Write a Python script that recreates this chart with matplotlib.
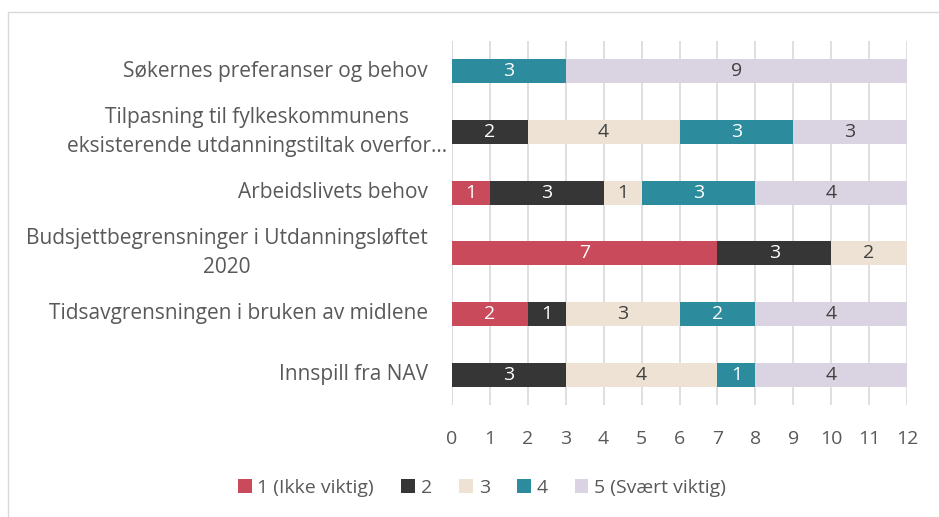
import numpy as np
import matplotlib.pyplot as plt
from matplotlib.transforms import offset_copy

plt.rcParams['font.family'] = ['Open Sans', 'DejaVu Sans']

categories = [
    'Søkernes preferanser og behov',
    'Tilpasning til fylkeskommunens\neksisterende utdanningstiltak overfor…',
    'Arbeidslivets behov',
    'Budsjettbegrensninger i Utdanningsløftet\n2020',
    'Tidsavgrensningen i bruken av midlene',
    'Innspill fra NAV',
]
series_names = ['1 (Ikke viktig)', '2', '3', '4', '5 (Svært viktig)']
v1 = [0, 0, 1, 7, 2, 0]
v2 = [0, 2, 3, 3, 1, 3]
v3 = [0, 4, 1, 2, 3, 4]
v4 = [3, 3, 3, 0, 2, 1]
v5 = [9, 3, 4, 0, 4, 4]
values = [v1, v2, v3, v4, v5]
colors = ['#C94A5A', '#363636', '#EDE2D3', '#2C8C9D', '#DAD3E1']
text_colors = ['white', 'white', '#404040', 'white', '#404040']

fig = plt.figure(figsize=(9.39, 5.17), dpi=100)
ax = fig.add_axes([452 / 939, 1 - 405 / 517, 455 / 939, 364 / 517])

y = np.arange(len(categories))
left = np.zeros(len(categories))
for vals, name, c, tc in zip(values, series_names, colors, text_colors):
    vals = np.array(vals, dtype=float)
    ax.barh(y, vals, left=left, height=0.4, color=c, label=name, zorder=3)
    for yi, (l, v) in enumerate(zip(left, vals)):
        if v > 0:
            ax.text(l + v / 2, yi, f'{int(v)}', ha='center', va='center',
                    color=tc, fontsize=14, zorder=4)
    left += vals

ax.set_xlim(0, 12)
ax.set_ylim(len(categories) - 0.5, -0.5)
ax.set_xticks(range(13))
ax.set_yticks(y)
ax.set_yticklabels([])
ax.tick_params(axis='x', colors='#595959', labelsize=14, length=0, pad=18)
ax.tick_params(axis='y', length=0)

# category labels: right edge ~24 px left of the axis, wrapped ones centred
for yi, lab in enumerate(categories):
    gap = 5 if yi == 1 else 24
    tr = offset_copy(ax.get_yaxis_transform(), fig=fig, x=-gap * 0.72, units='points')
    ax.text(0, yi, lab, transform=tr, ha='right', va='center',
            multialignment='center', fontsize=15, color='#595959',
            linespacing=1.5)

ax.grid(axis='x', color='#D9D9D9', linewidth=1.2, zorder=0)
for s in ax.spines.values():
    s.set_visible(False)
ax.axvline(0, color='#D9D9D9', linewidth=1.2, zorder=1)

fig.legend(loc='center', bbox_to_anchor=(482 / 939, 1 - 488 / 517), ncol=5,
           frameon=False, fontsize=14, labelcolor='#595959', handlelength=0.7,
           handleheight=0.7, handletextpad=0.3, columnspacing=1.4)

# outer chart border
fig.add_artist(plt.Rectangle((8 / 939, -0.01), 1.0, 1 - 12 / 517 + 0.01,
                             transform=fig.transFigure, fill=False,
                             edgecolor='#D9D9D9', linewidth=1))

fig.savefig('out.png', dpi=100)
